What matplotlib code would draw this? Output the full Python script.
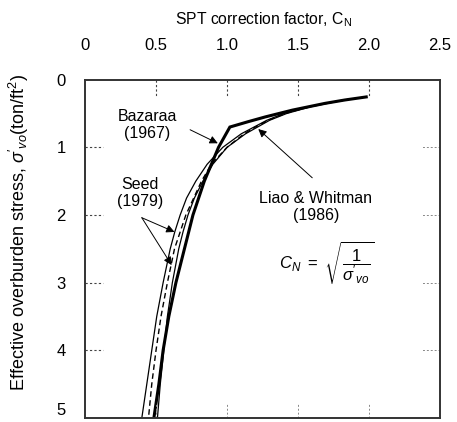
import matplotlib
matplotlib.use("Agg")
from matplotlib import pyplot as plt

plt.rcParams['font.family'] = ['Liberation Sans', 'DejaVu Sans']
plt.rcParams['mathtext.fontset'] = 'custom'
plt.rcParams['mathtext.rm'] = 'Liberation Sans'
plt.rcParams['mathtext.it'] = 'Liberation Sans:italic'
plt.rcParams['mathtext.bf'] = 'Liberation Sans:bold'

# values (stress in ton/ft^2, C_N dimensionless)
liao_stress = [0.265, 0.3, 0.35, 0.4, 0.5, 0.6, 0.7, 0.8, 1.0, 1.25, 1.5, 2.0, 2.5, 3.0, 3.5, 4.0, 4.5, 5.0]
liao_cn = [1.95, 1.83, 1.69, 1.58, 1.41, 1.29, 1.20, 1.12, 1.0, 0.89, 0.82, 0.71, 0.63, 0.58, 0.535, 0.50, 0.47, 0.447]

bazaraa_stress = [0.255, 0.3, 0.35, 0.45, 0.55, 0.62, 0.7, 1.0, 1.5, 2.0, 2.5, 3.0, 3.5, 4.0, 4.5, 5.0]
bazaraa_cn = [1.98, 1.83, 1.69, 1.46, 1.27, 1.15, 1.02, 0.94, 0.84, 0.76, 0.70, 0.64, 0.59, 0.55, 0.52, 0.485]

seed_stress = [0.265, 0.3, 0.4, 0.5, 0.6, 0.8, 1.0, 1.25, 1.5, 1.75, 2.0, 2.25, 2.5, 3.0, 3.5, 4.0, 4.5, 5.0]
seed_lo_cn = [1.95, 1.82, 1.57, 1.40, 1.28, 1.10, 0.97, 0.86, 0.78, 0.715, 0.67, 0.632, 0.60, 0.55, 0.505, 0.47, 0.435, 0.40]
seed_hi_cn = [1.95, 1.83, 1.59, 1.42, 1.30, 1.13, 1.0, 0.90, 0.83, 0.77, 0.725, 0.69, 0.66, 0.615, 0.58, 0.555, 0.53, 0.51]

x_ticks = [0, 0.5, 1.0, 1.5, 2.0, 2.5]
x_tick_labels = ['0', '0.5', '1.0', '1.5', '2.0', '2.5']
y_ticks = [0, 1, 2, 3, 4, 5]

fig = plt.figure(figsize=(4.57, 4.22), dpi=100)
ax = fig.add_axes([0.186, 0.0095, 0.777, 0.8017])

ax.plot(seed_lo_cn, seed_stress, color='black', lw=0.9)
ax.plot(seed_hi_cn, seed_stress, color='black', lw=0.9)
ax.plot(liao_cn, liao_stress, color='black', lw=1.0, linestyle=(0, (4, 2.5)))
ax.plot(bazaraa_cn, bazaraa_stress, color='black', lw=2.2, solid_joinstyle='miter')

ax.set_xlim(0, 2.5)
ax.set_ylim(5, 0)
ax.xaxis.tick_top()
ax.set_xticks(x_ticks)
ax.set_xticklabels(x_tick_labels)
ax.set_yticks(y_ticks)
ax.tick_params(axis='x', length=0, pad=19, labelsize=12)
ax.tick_params(axis='y', length=0, pad=14, labelsize=12)
for lab in ax.get_yticklabels():
    if lab.get_text() == '5':
        lab.set_va('bottom')

for s in ax.spines.values():
    s.set_linewidth(1.4)
    s.set_color('#333333')

# short dashed grid stubs along the frame
for xv in x_ticks[1:-1]:
    ax.plot([xv, xv], [1, 0.953], transform=ax.get_xaxis_transform(), color='#444444', lw=0.8, linestyle=(0, (2, 2)))
    ax.plot([xv, xv], [0, 0.04], transform=ax.get_xaxis_transform(), color='#888888', lw=0.7, linestyle=(0, (2, 2)))
for yv in y_ticks[1:-1]:
    ax.plot([0, 0.05], [yv, yv], transform=ax.get_yaxis_transform(), color='#444444', lw=0.8, linestyle=(0, (2, 2)))
    ax.plot([1, 0.95], [yv, yv], transform=ax.get_yaxis_transform(), color='#888888', lw=0.7, linestyle=(0, (2, 2)))

ax.set_xlabel(r'SPT correction factor, C$_\mathrm{N}$', fontsize=11.3)
ax.xaxis.set_label_position('top')
ax.xaxis.set_label_coords(0.504, 1.165)
ax.set_ylabel(r"Effective overburden stress, $\sigma'_{vo}$(ton/ft$^2$)", fontsize=13)
ax.yaxis.set_label_coords(-0.152, 0.55)

arrow = dict(arrowstyle='-|>', color='black', lw=0.7, mutation_scale=12, shrinkA=0, shrinkB=0)

ax.text(0.44, 0.67, 'Bazaraa\n(1967)', ha='center', va='center', fontsize=11.5, linespacing=1.15)
ax.annotate('', xy=(0.935, 0.94), xytext=(0.74, 0.74), arrowprops=arrow)

ax.text(0.39, 1.68, 'Seed\n(1979)', ha='center', va='center', fontsize=11.5, linespacing=1.15)
ax.annotate('', xy=(0.63, 2.25), xytext=(0.40, 2.04), arrowprops=arrow)
ax.annotate('', xy=(0.61, 2.74), xytext=(0.40, 2.04), arrowprops=arrow)

ax.text(1.625, 1.88, 'Liao & Whitman\n(1986)', ha='center', va='center', fontsize=11.5, linespacing=1.15)
ax.annotate('', xy=(1.22, 0.73), xytext=(1.6, 1.45), arrowprops=arrow)
ax.text(1.70, 2.70, r"$C_N\ =\ \sqrt{\dfrac{1}{\sigma'_{vo}}}$", ha='center', va='center', fontsize=12)

fig.savefig('out.png', dpi=100)
